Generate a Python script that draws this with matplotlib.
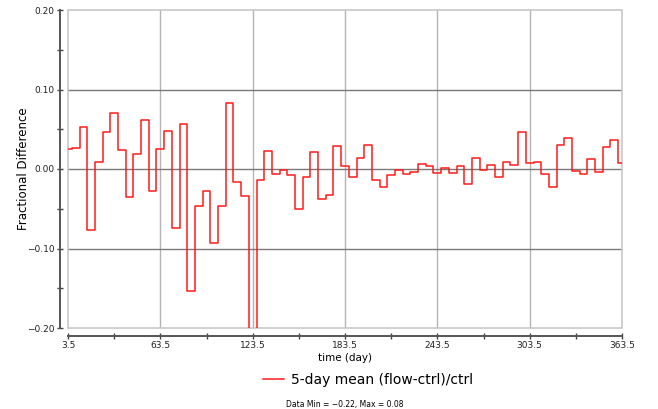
import numpy as np
import matplotlib
matplotlib.use("Agg")
import matplotlib.pyplot as plt
from matplotlib.patches import Rectangle
from matplotlib.ticker import MultipleLocator, FixedLocator, FuncFormatter

days = [3.5 + 5 * i for i in range(73)]
frac_diff = [
    0.0251, 0.0264, 0.0523, -0.0762, 0.0088, 0.0465, 0.0708, 0.0243, -0.0352, 0.0188,
    0.0616, -0.0281, 0.0251, 0.0482, -0.0737, 0.0565, -0.1537, -0.0461, -0.0272, -0.0930,
    -0.0461, 0.0829, -0.0168, -0.0335, -0.2200, -0.0142, 0.0230, -0.0063, -0.0017, -0.0075,
    -0.0500, -0.0100, 0.0220, -0.0377, -0.0330, 0.0289, 0.0034, -0.0096, 0.0134, 0.0300,
    -0.0138, -0.0230, -0.0071, -0.0008, -0.0059, -0.0038, 0.0059, 0.0042, -0.0054, 0.0017,
    -0.0050, 0.0034, -0.0184, 0.0142, -0.0013, 0.0054, -0.0096, 0.0088, 0.0050, 0.0465,
    0.0071, 0.0088, -0.0067, -0.0230, 0.0297, 0.0389, -0.0029, -0.0063, 0.0130, -0.0038,
    0.0272, 0.0369, 0.0071,
]
x_ticks = [3.5, 63.5, 123.5, 183.5, 243.5, 303.5, 363.5]
y_ticks = [-0.20, -0.10, 0.00, 0.10, 0.20]

W, H = 658, 409
fig = plt.figure(figsize=(W / 100, H / 100), dpi=100)
left, right, top, bottom = 68, 622, 10, 328
ax = fig.add_axes([left / W, (H - bottom) / H, (right - left) / W, (bottom - top) / H])

ax.set_xlim(3.5, 363.5)
ax.set_ylim(-0.2, 0.2)

# gridlines
for xv in x_ticks[1:-1]:
    ax.axvline(xv, color="#b4b4b4", lw=1.0, zorder=1)
for yv in y_ticks[1:-1]:
    ax.axhline(yv, color="#7a7a7a", lw=1.0, zorder=1)

ax.step(days, frac_diff, where="mid", color="#ff1a1a", lw=1.1, zorder=3,
        label="5-day mean (flow-ctrl)/ctrl")

# plot box
ax.add_patch(Rectangle((0, 0), 1, 1, transform=ax.transAxes, fill=False,
                       edgecolor="#c8c8c8", lw=1.2, zorder=2, clip_on=False))

for s in ["top", "right"]:
    ax.spines[s].set_visible(False)
for s in ["left", "bottom"]:
    ax.spines[s].set_position(("outward", 6))
    ax.spines[s].set_color("#555555")
    ax.spines[s].set_linewidth(1.4)

ax.xaxis.set_major_locator(FixedLocator(x_ticks))
ax.xaxis.set_minor_locator(MultipleLocator(30, offset=3.5))
ax.yaxis.set_major_locator(FixedLocator(y_ticks))
ax.yaxis.set_minor_locator(MultipleLocator(0.05))
ax.xaxis.set_major_formatter(FuncFormatter(lambda v, p: f"{v:.1f}"))
ax.yaxis.set_major_formatter(FuncFormatter(lambda v, p: f"{v:.2f}".replace("-0.00", "0.00").replace("-", "\u2212")))
ax.tick_params(which="both", direction="inout", length=4, width=1.0, color="#444444",
               labelsize=6.5, labelcolor="#222222", pad=1.5)

ax.set_xlabel("time (day)", fontsize=7.5, labelpad=2)
ax.set_ylabel("Fractional Difference", fontsize=8.5, labelpad=-2)

fig.legend(loc="center", bbox_to_anchor=(368 / W, 1 - 380 / H), frameon=False,
           fontsize=10, handlelength=1.5, handletextpad=0.5)
fig.text(345 / W, 1 - 404 / H, "Data Min = \u22120.22, Max = 0.08", fontsize=5.5,
         ha="center", va="center")

fig.savefig("out.png", dpi=100)
